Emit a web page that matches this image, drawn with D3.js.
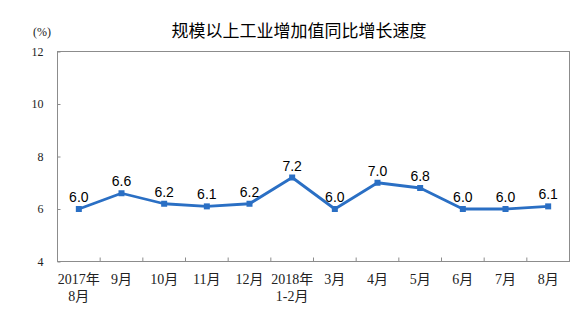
<!DOCTYPE html>
<html><head><meta charset="utf-8">
<script src="https://cdn.jsdelivr.net/npm/d3@7"></script>
<style>body{margin:0;background:#fff;} svg{display:block;}</style>
</head><body>
<script>
const categories = ["2017年\n8月","9月","10月","11月","12月","2018年\n1-2月","3月","4月","5月","6月","7月","8月"];
const values = [6.0,6.6,6.2,6.1,6.2,7.2,6.0,7.0,6.8,6.0,6.0,6.1];
const yTicks = [4,6,8,10,12];
const title = "规模以上工业增加值同比增长速度";
const unit = "(%)";

const W=575,H=328;
const svg=d3.select("body").append("svg").attr("width",W).attr("height",H);
const L=57.5,R=569.5,T=51.5,B=261.5;
const x=d3.scaleBand().domain(d3.range(categories.length)).range([L,R]);
const y=d3.scaleLinear().domain([4,12]).range([B,T]);
const serif='"Liberation Serif","Noto Sans CJK SC",serif';

svg.append("text").attr("x",299).attr("y",37).attr("text-anchor","middle")
  .attr("font-family",'"Noto Sans CJK SC",sans-serif').attr("font-size",17).attr("fill","#000").text(title);
svg.append("text").attr("x",42).attr("y",36).attr("text-anchor","middle")
  .attr("font-family",serif).attr("font-size",12).attr("fill","#222").text(unit);

svg.append("rect").attr("x",L).attr("y",T).attr("width",R-L).attr("height",B-T)
  .attr("fill","none").attr("stroke","#8c8c8c").attr("stroke-width",1);

// y axis
const ya=svg.append("g").attr("transform",`translate(${L},0)`)
  .call(d3.axisLeft(y).tickValues(yTicks).tickSize(-3).tickPadding(14));
ya.select(".domain").remove();
ya.selectAll("line").attr("stroke","#8c8c8c");
ya.selectAll("text").attr("font-family",serif).attr("font-size",12).attr("fill","#222");

// x axis: ticks at band boundaries
const xa=svg.append("g").attr("transform",`translate(0,${B})`);
xa.selectAll("line").data(d3.range(1,categories.length)).join("line")
  .attr("x1",d=>x(d)).attr("x2",d=>x(d)).attr("y1",0).attr("y2",-4).attr("stroke","#8c8c8c");
const xl=xa.selectAll("text").data(categories).join("text")
  .attr("text-anchor","middle").attr("font-family",serif).attr("font-size",14).attr("fill","#222");
xl.each(function(d,i){
  const t=d3.select(this);
  d.split("\n").forEach((s,j)=>{
    t.append("tspan").attr("x",x(i)+x.bandwidth()/2).attr("y",22+j*17).text(s);
  });
});

const cx=i=>x(i)+x.bandwidth()/2;
svg.append("path").datum(values)
  .attr("d",d3.line().x((d,i)=>cx(i)).y(d=>y(d)))
  .attr("fill","none").attr("stroke","#2a6fc4").attr("stroke-width",2.8).attr("stroke-linejoin","round");
svg.selectAll("rect.m").data(values).join("rect").attr("class","m")
  .attr("x",(d,i)=>cx(i)-3).attr("y",d=>y(d)-3).attr("width",6).attr("height",6).attr("fill","#2a6fc4");
svg.selectAll("text.v").data(values).join("text").attr("class","v")
  .attr("x",(d,i)=>cx(i)).attr("y",d=>y(d)-7).attr("text-anchor","middle")
  .attr("font-family",'"Liberation Sans",Arial,sans-serif').attr("font-size",14).attr("fill","#000")
  .text(d=>d.toFixed(1));
</script>
</body></html>
